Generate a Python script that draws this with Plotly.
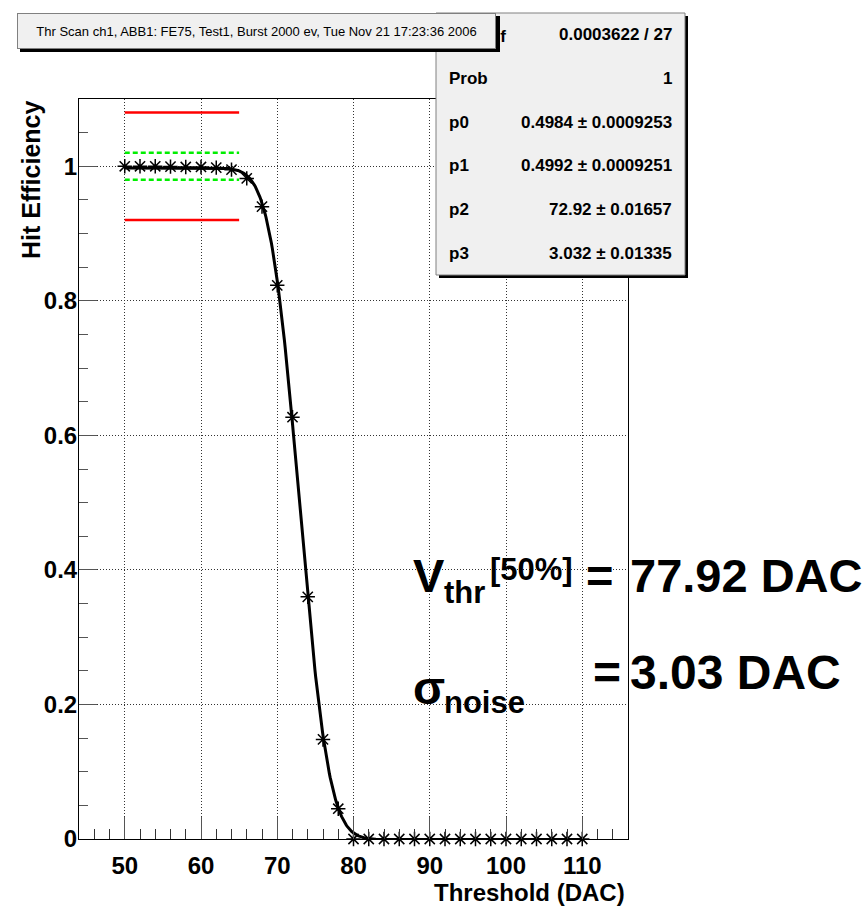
import math
import plotly.graph_objects as go

# Threshold scan: hit efficiency vs threshold (DAC units)
thr = [50, 52, 54, 56, 58, 60, 62, 64, 66, 68, 70, 72, 74, 76, 78, 80,
       82, 84, 86, 88, 90, 92, 94, 96, 98, 100, 102, 104, 106, 108, 110]
eff = [1.0, 1.0, 1.0, 0.9995, 0.999, 0.999, 0.998, 0.995, 0.982, 0.940,
       0.823, 0.627, 0.360, 0.148, 0.045, 0.0, 0.0, 0.0, 0.0, 0.0, 0.0,
       0.0, 0.0, 0.0, 0.0, 0.0, 0.0, 0.0, 0.0, 0.0, 0.0]

# Fit result (p0 - p1*erf((x-p2)/(sqrt(2)*p3)))
p0, p1, p2, p3 = 0.4984, 0.4992, 72.92, 3.032
fit_range = [50, 110]

# Tolerance bands on the plateau
band_x = [50, 65]
band_outer = 0.08
band_inner = 0.02

title_text = "Thr Scan ch1, ABB1: FE75, Test1, Burst 2000 ev, Tue Nov 21 17:23:36 2006"
stats_labels = ["χ<sup>2</sup> / ndf", "Prob", "p0", "p1", "p2", "p3"]
stats_values = ["0.0003622 / 27", "1",
                "0.4984 ± 0.0009253", "0.4992 ± 0.0009251",
                "72.92 ± 0.01657", "3.032 ± 0.01335"]

x_ticks = [50, 60, 70, 80, 90, 100, 110]
y_ticks = [0, 0.2, 0.4, 0.6, 0.8, 1.0]
y_ticktext = ["0", "0.2", "0.4", "0.6", "0.8", "1"]

FONT = "Liberation Sans, Arial, Helvetica, sans-serif"
W, H = 867, 906
L, R, T, B = 79, 239, 99, 67
PW, PH = W - L - R, H - T - B


def px(x):
    return (x - L) / PW


def py(y):
    return (H - B - y) / PH


fig = go.Figure()

# fitted curve
n = 600
fx = [fit_range[0] + (fit_range[1] - fit_range[0]) * i / (n - 1) for i in range(n)]
fy = [p0 - p1 * math.erf((v - p2) / (math.sqrt(2) * p3)) for v in fx]
fig.add_trace(go.Scatter(x=fx, y=fy, mode="lines",
                         line=dict(color="black", width=3), cliponaxis=False,
                         hoverinfo="skip"))

# tolerance bands
for tol, col, dash, wd in [(band_outer, "#ff0000", "solid", 2.5),
                           (band_inner, "#00ee00", "5px,3px", 2.5)]:
    for sgn in (1, -1):
        fig.add_trace(go.Scatter(x=band_x, y=[1 + sgn * tol] * 2, mode="lines",
                                 line=dict(color=col, width=wd, dash=dash),
                                 hoverinfo="skip"))

# measured points
fig.add_trace(go.Scatter(x=thr, y=eff, mode="markers", cliponaxis=False,
                         marker=dict(symbol="asterisk-open", size=12,
                                     color="black",
                                     line=dict(color="black", width=1.5))))

grid = dict(showgrid=True, gridcolor="#333333", gridwidth=1, griddash="1px,2px")

fig.update_xaxes(range=[44, 116], tickvals=x_ticks, ticks="inside",
                 ticklen=22, tickwidth=1, tickcolor="#555555",
                 showline=True, linecolor="black", linewidth=1, mirror=True,
                 zeroline=False,
                 tickfont=dict(family=FONT, size=24, color="black", weight="bold"),
                 ticklabelstandoff=5,
                 minor=dict(dtick=2, tick0=44, ticks="inside", ticklen=10,
                            tickcolor="#333333", showgrid=False),
                 **grid)
fig.update_yaxes(range=[0, 1.1], tickvals=y_ticks, ticktext=y_ticktext,
                 ticks="inside", ticklen=18, tickwidth=1, tickcolor="#555555",
                 showline=True, linecolor="black", linewidth=1, mirror=True,
                 zeroline=False,
                 tickfont=dict(family=FONT, size=24, color="black", weight="bold"),
                 ticklabelstandoff=-4,
                 minor=dict(dtick=0.05, tick0=0, ticks="inside", ticklen=9,
                            tickcolor="#555555", showgrid=False),
                 **grid)

ann = []

# axis titles
ann.append(dict(text="Threshold (DAC)", xref="paper", yref="paper",
                x=px(627), y=py(893), xanchor="right", yanchor="middle",
                showarrow=False,
                font=dict(family=FONT, size=24, color="black", weight="bold")))
ann.append(dict(text="Hit Efficiency", xref="paper", yref="paper",
                x=px(31), y=py(99), xanchor="center", yanchor="top",
                textangle=-90, showarrow=False,
                font=dict(family=FONT, size=25, color="black", weight="bold")))

# fit summary text
big = dict(family=FONT, color="black", weight="bold")


def txt(s, x, ycen, size, anchor="left"):
    ann.append(dict(text=s, xref="paper", yref="paper", x=px(x), y=py(ycen),
                    xanchor=anchor, yanchor="middle", showarrow=False,
                    font=dict(size=size, **big)))


txt("V", 411, 575, 47)
txt("thr", 442, 592, 31)
txt("[50%]", 488, 569, 31)
txt("=", 584, 575, 47)
txt("77.92 DAC", 628, 575, 47)
txt("σ", 411, 687, 47)
txt("noise", 442, 702, 31)
txt("=", 591, 672, 48)
txt("3.03 DAC", 628, 672, 48)

# stats box text
row_top, row_h = 13, 43.67
for i, (lab, val) in enumerate(zip(stats_labels, stats_values)):
    yc = row_top + row_h * (i + 0.5)
    ann.append(dict(text=lab, xref="paper", yref="paper", x=px(447), y=py(yc),
                    xanchor="left", yanchor="middle", showarrow=False,
                    font=dict(family=FONT, size=17, color="black", weight="bold")))
    ann.append(dict(text=val, xref="paper", yref="paper", x=px(674), y=py(yc),
                    xanchor="right", yanchor="middle", showarrow=False,
                    font=dict(family=FONT, size=17, color="black", weight="bold")))

# title pave with shadow
ann.append(dict(text=" ", xref="paper", yref="paper",
                x=px(20), y=py(16), xanchor="left", yanchor="top",
                width=480, height=36, bgcolor="black", borderwidth=0,
                borderpad=0, showarrow=False, font=dict(size=10)))
ann.append(dict(text=title_text, xref="paper", yref="paper",
                x=px(17), y=py(13), xanchor="left", yanchor="top",
                width=477, height=34, bgcolor="#f0f0f0", bordercolor="#808080",
                borderwidth=1, borderpad=0, showarrow=False, align="center",
                font=dict(family=FONT, size=13, color="black")))

shapes = [
    dict(type="rect", xref="paper", yref="paper", x0=px(439), x1=px(688),
         y0=py(16), y1=py(278), fillcolor="black", line=dict(width=0)),
    dict(type="rect", xref="paper", yref="paper", x0=px(436), x1=px(685),
         y0=py(13), y1=py(275), fillcolor="#f0f0f0",
         line=dict(color="#808080", width=1)),
]

fig.update_layout(width=W, height=H, margin=dict(l=L, r=R, t=T, b=B),
                  paper_bgcolor="white", plot_bgcolor="white",
                  showlegend=False, annotations=ann, shapes=shapes,
                  font=dict(family=FONT))

fig.write_html("out.html")
